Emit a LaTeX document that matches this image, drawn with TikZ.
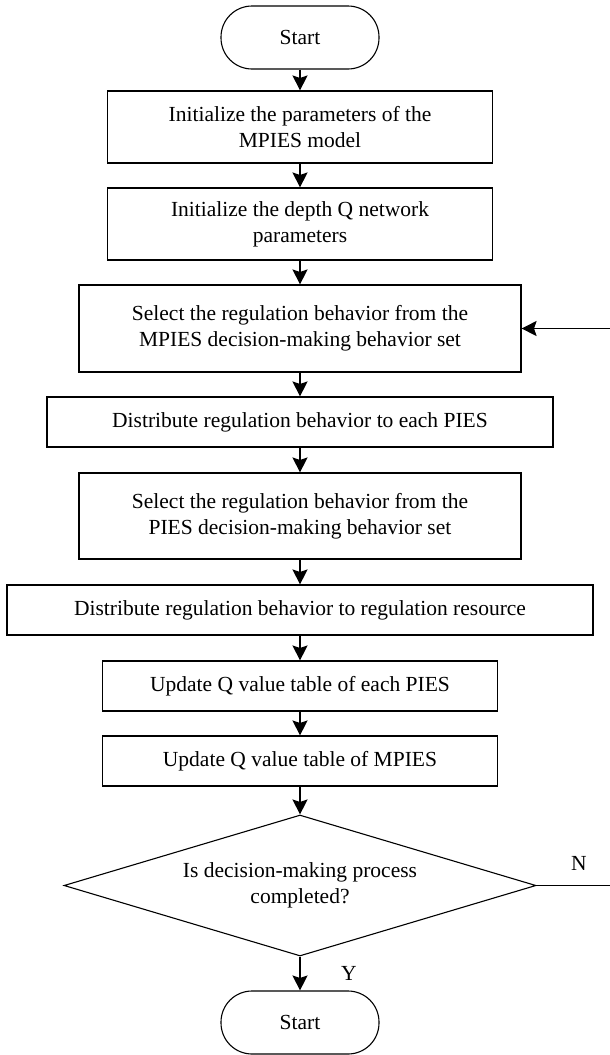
\documentclass[tikz,border=0pt]{standalone}
\usepackage{fontspec}
\setmainfont{Liberation Serif}
\usetikzlibrary{arrows.meta,shapes.geometric}

\begin{document}
\begin{tikzpicture}[x=1pt,y=-1pt,line width=1.1pt,
    every node/.style={font=\fontsize{21.5}{26}\selectfont},
    term/.style={draw,rounded corners=31pt,minimum width=158pt,minimum height=63pt},
    proc/.style={draw,rectangle,align=center,inner sep=0pt},
    decide/.style={draw,diamond,aspect=3.35,align=center,inner sep=0pt,
      minimum width=472pt,minimum height=141pt},
    arr/.style={-{Stealth[length=15pt,width=15pt,inset=2.5pt]}}]

      \useasboundingbox (0,0) rectangle (610,1055);

      \node[term] (start) at (300,37.5) {Start};
      \node[proc,minimum width=385pt,minimum height=72pt] (init)  at (300,127)
        {Initialize the parameters of the\\MPIES model};
      \node[proc,minimum width=385pt,minimum height=72pt] (depth) at (300,224)
        {Initialize the depth Q network\\parameters};
      \node[proc,minimum width=442pt,minimum height=87pt] (selM)  at (300,328.5)
        {Select the regulation behavior from the\\MPIES decision-making behavior set};
      \node[proc,minimum width=506pt,minimum height=50pt] (distP) at (300,422)
        {Distribute regulation behavior to each PIES};
      \node[proc,minimum width=442pt,minimum height=86pt] (selP)  at (300,516)
        {Select the regulation behavior from the\\PIES decision-making behavior set};
      \node[proc,minimum width=586pt,minimum height=50pt] (distR) at (300,610)
        {Distribute regulation behavior to regulation resource};
      \node[proc,minimum width=395pt,minimum height=50pt] (updP)  at (300,686)
        {Update Q value table of each PIES};
      \node[proc,minimum width=395pt,minimum height=50pt] (updM)  at (300,761)
        {Update Q value table of MPIES};
      \node[decide] (done) at (300,885.5) {Is decision-making process\\completed?};
      \node[term] (stop) at (300,1022.5) {Start};

      \node (yes) at (349,973) {Y};
      \node (no)  at (579,863) {N};

      \coordinate (noEnd)  at (610,885.5);
      \coordinate (loopIn) at (610,328.5);

      \begin{scope}[every edge/.style={draw,arr}]
        \path (start) edge (init);
        \path (init)  edge (depth);
        \path (depth) edge (selM);
        \path (selM)  edge (distP);
        \path (distP) edge (selP);
        \path (selP)  edge (distR);
        \path (distR) edge (updP);
        \path (updP)  edge (updM);
        \path (updM)  edge (done);
        \path (done)  edge (stop);
        \path (loopIn) edge (selM.east);
      \end{scope}
      \draw (done.east) -- (noEnd);

    \end{tikzpicture}
\end{document}
